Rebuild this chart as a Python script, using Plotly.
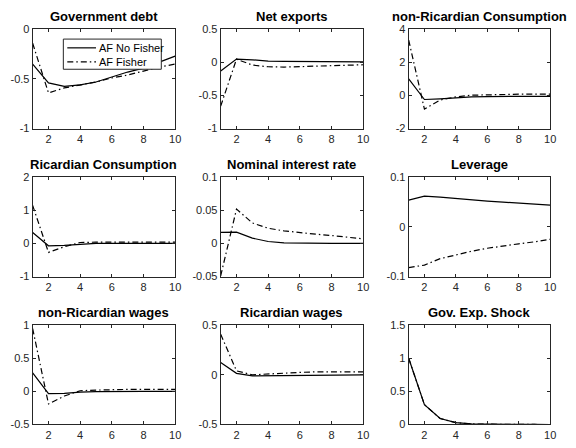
import plotly.graph_objects as go

periods = [1, 2, 3, 4, 5, 6, 7, 8, 9, 10]

titles = ["Government debt", "Net exports", "non-Ricardian Consumption",
          "Ricardian Consumption", "Nominal interest rate", "Leverage",
          "non-Ricardian wages", "Ricardian wages", "Gov. Exp. Shock"]

gov_debt_nf = [-0.35, -0.54, -0.575, -0.56, -0.53, -0.48, -0.43, -0.39, -0.33, -0.27]
gov_debt_f = [-0.14, -0.64, -0.59, -0.56, -0.53, -0.49, -0.46, -0.42, -0.38, -0.35]

net_exp_nf = [-0.13, 0.05, 0.04, 0.02, 0.015, 0.012, 0.01, 0.01, 0.01, 0.01]
net_exp_f = [-0.66, 0.05, -0.04, -0.065, -0.07, -0.065, -0.06, -0.05, -0.045, -0.035]

nr_cons_nf = [1.0, -0.24, -0.2, -0.12, -0.08, -0.06, -0.05, -0.05, -0.05, -0.05]
nr_cons_f = [3.35, -0.82, -0.27, -0.08, 0.02, 0.05, 0.07, 0.08, 0.08, 0.08]

r_cons_nf = [0.33, -0.07, -0.06, -0.02, 0.0, 0.0, 0.0, 0.0, 0.0, 0.0]
r_cons_f = [1.15, -0.27, -0.1, 0.03, 0.04, 0.04, 0.04, 0.04, 0.04, 0.04]

nom_rate_nf = [0.0168, 0.017, 0.008, 0.003, 0.001, 0.0004, 0.0002, 0.0001, 0.0, 0.0]
nom_rate_f = [-0.049, 0.052, 0.031, 0.023, 0.019, 0.016, 0.014, 0.012, 0.0095, 0.007]

leverage_nf = [0.054, 0.062, 0.060, 0.057, 0.054, 0.052, 0.050, 0.048, 0.046, 0.044]
leverage_f = [-0.082, -0.077, -0.064, -0.056, -0.049, -0.043, -0.038, -0.034, -0.030, -0.025]

nr_wage_nf = [0.28, -0.035, -0.03, -0.01, -0.005, 0.0, 0.0, 0.0, 0.0, 0.0]
nr_wage_f = [0.95, -0.19, -0.07, 0.01, 0.02, 0.03, 0.03, 0.03, 0.03, 0.03]

r_wage_nf = [0.125, 0.015, -0.01, -0.008, -0.004, -0.002, 0.0, 0.0, 0.0, 0.0]
r_wage_f = [0.41, 0.04, 0.0, 0.01, 0.02, 0.025, 0.03, 0.03, 0.03, 0.03]

gov_shock_nf = [1.0, 0.3, 0.09, 0.027, 0.008, 0.0024, 0.0007, 0.0002, 0.0001, 0.0]
gov_shock_f = [1.0, 0.3, 0.09, 0.027, 0.008, 0.0024, 0.0007, 0.0002, 0.0001, 0.0]

series_nf = [gov_debt_nf, net_exp_nf, nr_cons_nf, r_cons_nf, nom_rate_nf,
             leverage_nf, nr_wage_nf, r_wage_nf, gov_shock_nf]
series_f = [gov_debt_f, net_exp_f, nr_cons_f, r_cons_f, nom_rate_f,
            leverage_f, nr_wage_f, r_wage_f, gov_shock_f]

y_ranges = [[-1, 0], [-1, 0.5], [-2, 4], [-1, 2], [-0.05, 0.1], [-0.1, 0.1],
            [-0.5, 1], [-0.5, 0.5], [0, 1.5]]
y_ticks = [[-1, -0.5, 0], [-1, -0.5, 0, 0.5], [-2, 0, 2, 4], [-1, 0, 1, 2],
           [-0.05, 0, 0.05, 0.1], [-0.1, 0, 0.1], [-0.5, 0, 0.5, 1],
           [-0.5, 0, 0.5], [0, 0.5, 1, 1.5]]
x_ticks = [2, 4, 6, 8, 10]

legend_names = ["AF No Fisher", "AF Fisher"]

W, H = 576, 448
col_px = [(33, 177), (223, 367), (413, 556)]
row_px = [(24, 126), (176, 278), (328, 430)]

axcol = "#262626"
FONT = "Liberation Sans, Arial, Helvetica"
DASHDOT = "6px,3px,1.5px,3px"

def fmt(v):
    return "%g" % v

fig = go.Figure()
for i in range(9):
    r, c = divmod(i, 3)
    n = i + 1
    xa = "xaxis" if n == 1 else "xaxis%d" % n
    ya = "yaxis" if n == 1 else "yaxis%d" % n
    xref = "x" if n == 1 else "x%d" % n
    yref = "y" if n == 1 else "y%d" % n
    x0, x1 = col_px[c]
    y0, y1 = row_px[r]
    common = dict(showline=True, mirror="ticks", linecolor=axcol, linewidth=1,
                  ticks="inside", ticklen=3, tickcolor=axcol, tickwidth=1,
                  showgrid=False, zeroline=False,
                  tickfont=dict(family=FONT, size=11, color=axcol))
    fig.layout[xa] = dict(domain=[x0 / W, x1 / W], range=[1, 10], tickvals=x_ticks,
                          ticktext=[fmt(v) for v in x_ticks], anchor=yref, **common)
    fig.layout[ya] = dict(domain=[1 - y1 / H, 1 - y0 / H], range=y_ranges[i],
                          tickvals=y_ticks[i], ticktext=[fmt(v) for v in y_ticks[i]],
                          anchor=xref, **common)
    fig.add_trace(go.Scatter(x=periods, y=series_nf[i], mode="lines",
                             line=dict(color="black", width=1.2, dash="solid"),
                             name=legend_names[0], showlegend=False,
                             xaxis=xref, yaxis=yref))
    fig.add_trace(go.Scatter(x=periods, y=series_f[i], mode="lines",
                             line=dict(color="black", width=1.2, dash=DASHDOT),
                             name=legend_names[1], showlegend=False,
                             xaxis=xref, yaxis=yref))
    fig.add_annotation(text="<b>%s</b>" % titles[i], xref="paper", yref="paper",
                       x=(x0 + x1) / 2 / W, y=1 - (y0 - 3) / H,
                       xanchor="center", yanchor="bottom", showarrow=False,
                       font=dict(family=FONT, size=13, color="black"))

# Legend box (drawn in paper coordinates inside the first panel)
lx0, lx1, ly0, ly1 = 64, 163, 34, 65
fig.add_shape(type="rect", xref="paper", yref="paper",
              x0=lx0 / W, x1=lx1 / W, y0=1 - ly1 / H, y1=1 - ly0 / H,
              line=dict(color=axcol, width=1), fillcolor="white", layer="above")
for k, (yy, dash) in enumerate([(43, "solid"), (57.5, DASHDOT)]):
    fig.add_shape(type="line", xref="paper", yref="paper",
                  x0=68 / W, x1=97 / W, y0=1 - yy / H, y1=1 - yy / H,
                  line=dict(color="black", width=1.2, dash=dash), layer="above")
    fig.add_annotation(text=legend_names[k], xref="paper", yref="paper",
                       x=98 / W, y=1 - yy / H, xanchor="left", yanchor="middle",
                       showarrow=False,
                       font=dict(family=FONT, size=11, color="black"))

fig.update_layout(
    width=W, height=H, margin=dict(l=0, r=0, t=0, b=0),
    paper_bgcolor="white", plot_bgcolor="white", showlegend=False,
)

fig.write_html("out.html")
